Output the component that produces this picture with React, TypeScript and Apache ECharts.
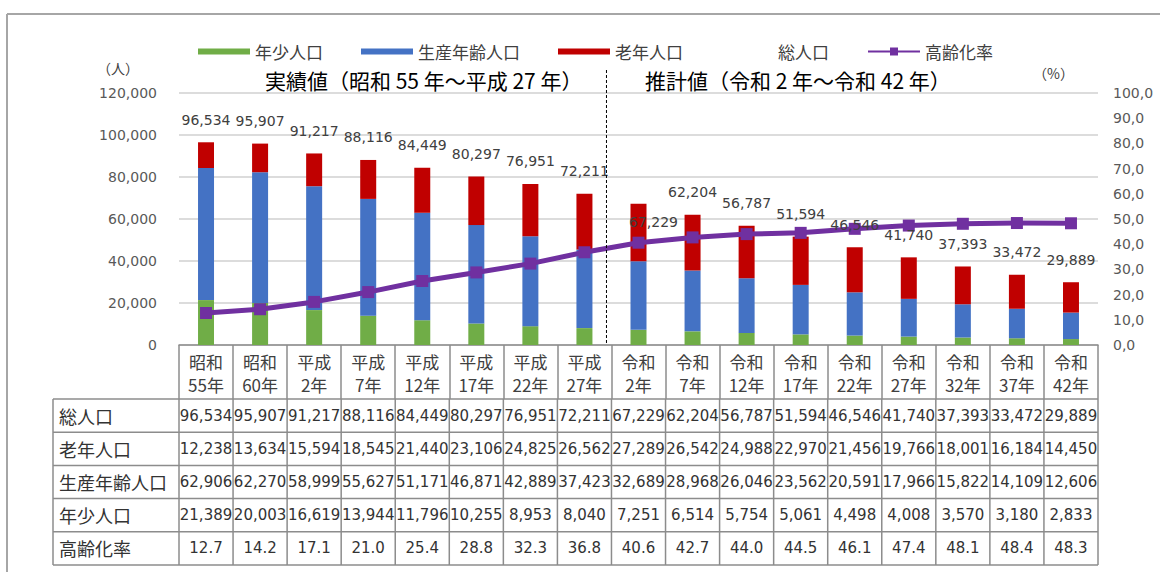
import React, { useEffect, useRef } from "react";
import * as echarts from "echarts";

// ---- data ----
const categories = [
  "昭和55年", "昭和60年", "平成2年", "平成7年", "平成12年", "平成17年", "平成22年", "平成27年",
  "令和2年", "令和7年", "令和12年", "令和17年", "令和22年", "令和27年", "令和32年", "令和37年", "令和42年",
];
const totalPop = [96534, 95907, 91217, 88116, 84449, 80297, 76951, 72211, 67229, 62204, 56787, 51594, 46546, 41740, 37393, 33472, 29889];
const elderlyPop = [12238, 13634, 15594, 18545, 21440, 23106, 24825, 26562, 27289, 26542, 24988, 22970, 21456, 19766, 18001, 16184, 14450];
const workingPop = [62906, 62270, 58999, 55627, 51171, 46871, 42889, 37423, 32689, 28968, 26046, 23562, 20591, 17966, 15822, 14109, 12606];
const youthPop = [21389, 20003, 16619, 13944, 11796, 10255, 8953, 8040, 7251, 6514, 5754, 5061, 4498, 4008, 3570, 3180, 2833];
const agingRate = [12.7, 14.2, 17.1, 21.0, 25.4, 28.8, 32.3, 36.8, 40.6, 42.7, 44.0, 44.5, 46.1, 47.4, 48.1, 48.4, 48.3];

const tableRowLabels = ["総人口", "老年人口", "生産年齢人口", "年少人口", "高齢化率"];
const actualNote = "実績値（昭和 55 年～平成 27 年）";
const estimateNote = "推計値（令和 2 年～令和 42 年）";
const leftUnit = "（人）";
const rightUnit = "（%）";

// ---- layout ----
const W = 1160;
const H = 572;
const GRID_LEFT = 179;
const GRID_RIGHT_X = 1098;
const GRID_TOP = 93;
const GRID_BOTTOM_Y = 345;
const TABLE_LEFT = 53;
const TABLE_TOP = 399;
const ROW_H = 33.2;
const LAST_ACTUAL_INDEX = 7;
const DISPLACED_LABEL_INDEX = 8;

const JP = '"Noto Sans CJK JP", sans-serif';
const NUM = '"DejaVu Sans", sans-serif';
const LINE_COLOR = "#8c8c8c";
const TEXT = "#404040";
const BAR_ICON = "path://M0,0h52v6h-52z";

const fmtInt = (v: number) => v.toLocaleString("en-US");

function buildGraphic() {
  const n = categories.length;
  const colW = (GRID_RIGHT_X - GRID_LEFT) / n;
  const els: any[] = [];
  const tableBottom = TABLE_TOP + ROW_H * tableRowLabels.length;

  // outer frame (top & left)
  els.push({ type: "line", silent: true, shape: { x1: 7, y1: 14, x2: W, y2: 14 }, style: { stroke: "#a6a6a6", lineWidth: 2 } });
  els.push({ type: "line", silent: true, shape: { x1: 7, y1: 14, x2: 7, y2: H }, style: { stroke: "#a6a6a6", lineWidth: 2 } });

  // table lines
  for (let r = 0; r <= tableRowLabels.length; r++) {
    const y = TABLE_TOP + r * ROW_H;
    els.push({ type: "line", silent: true, shape: { x1: TABLE_LEFT, y1: y, x2: GRID_RIGHT_X, y2: y }, style: { stroke: LINE_COLOR, lineWidth: 1.5 } });
  }
  els.push({ type: "line", silent: true, shape: { x1: TABLE_LEFT, y1: TABLE_TOP, x2: TABLE_LEFT, y2: tableBottom }, style: { stroke: LINE_COLOR, lineWidth: 1.5 } });
  for (let i = 0; i <= n; i++) {
    const x = GRID_LEFT + i * colW;
    els.push({ type: "line", silent: true, shape: { x1: x, y1: TABLE_TOP, x2: x, y2: tableBottom }, style: { stroke: LINE_COLOR, lineWidth: 1.5 } });
  }

  // table texts
  const rows: string[][] = [
    totalPop.map(fmtInt),
    elderlyPop.map(fmtInt),
    workingPop.map(fmtInt),
    youthPop.map(fmtInt),
    agingRate.map((v) => v.toFixed(1)),
  ];
  tableRowLabels.forEach((label, r) => {
    const cy = TABLE_TOP + r * ROW_H + ROW_H / 2;
    els.push({
      type: "text", silent: true, x: 59, y: cy,
      style: { text: label, fontSize: 18, fontFamily: JP, fill: "#333", align: "left", verticalAlign: "middle" },
    });
    rows[r].forEach((t, i) => {
      els.push({
        type: "text", silent: true, x: GRID_LEFT + i * colW + colW / 2, y: cy,
        style: { text: t, fontSize: 15, fontFamily: NUM, fill: "#333", align: "center", verticalAlign: "middle" },
      });
    });
  });

  // dashed divider between actual and estimate
  const divX = GRID_LEFT + (LAST_ACTUAL_INDEX + 1) * colW - 5;
  els.push({ type: "line", silent: true, z: 10, shape: { x1: divX, y1: 70, x2: divX, y2: GRID_BOTTOM_Y }, style: { stroke: "#000", lineWidth: 1, lineDash: [3, 2] } });

  // notes and units
  els.push({ type: "text", silent: true, x: 265, y: 80, style: { text: actualNote, fontSize: 21, fontFamily: JP, fill: "#000", align: "left", verticalAlign: "middle" } });
  els.push({ type: "text", silent: true, x: 645, y: 80, style: { text: estimateNote, fontSize: 21, fontFamily: JP, fill: "#000", align: "left", verticalAlign: "middle" } });
  els.push({ type: "text", silent: true, x: 97, y: 68, style: { text: leftUnit, fontSize: 14, fontFamily: JP, fill: TEXT, align: "left", verticalAlign: "middle" } });
  els.push({ type: "text", silent: true, x: 1033, y: 73, style: { text: rightUnit, fontSize: 14, fontFamily: JP, fill: TEXT, align: "left", verticalAlign: "middle" } });
  return els;
}

export default function App() {
  const ref = useRef<HTMLDivElement>(null);
  useEffect(() => {
    if (!ref.current) return;
    const chart = echarts.init(ref.current, undefined, { renderer: "svg" });
    const axisLine = { lineStyle: { color: LINE_COLOR, width: 1.5 } };
    chart.setOption({
      animation: false,
      backgroundColor: "#fff",
      legend: {
        left: 193,
        top: 38,
        itemWidth: 52,
        itemHeight: 10,
        itemGap: 38,
        selectedMode: false,
        textStyle: { fontFamily: JP, fontSize: 17, color: TEXT },
        data: [
          { name: "年少人口", icon: BAR_ICON },
          { name: "生産年齢人口", icon: BAR_ICON },
          { name: "老年人口", icon: BAR_ICON },
          { name: "総人口", icon: BAR_ICON, itemStyle: { opacity: 0 } },
          { name: "高齢化率" },
        ],
      },
      grid: { left: GRID_LEFT, right: W - GRID_RIGHT_X, top: GRID_TOP, bottom: H - GRID_BOTTOM_Y, containLabel: false },
      xAxis: {
        type: "category",
        data: categories,
        axisLine,
        axisTick: { show: true, length: TABLE_TOP - GRID_BOTTOM_Y, interval: 0, lineStyle: { color: LINE_COLOR, width: 1.5 } },
        axisLabel: {
          interval: 0,
          margin: 5,
          formatter: (v: string) => v.slice(0, 2) + "\n" + v.slice(2),
          fontFamily: JP,
          fontSize: 17,
          lineHeight: 23,
          color: TEXT,
        },
      },
      yAxis: [
        {
          type: "value",
          min: 0,
          max: 120000,
          interval: 20000,
          axisLine: { show: false },
          axisTick: { show: false },
          axisLabel: { margin: 22, fontFamily: NUM, fontSize: 14, color: "#595959", formatter: (v: number) => fmtInt(v) },
          splitLine: { lineStyle: { color: "#dcdcdc", width: 2 } },
        },
        {
          type: "value",
          min: 0,
          max: 100,
          interval: 10,
          axisLine: { show: false },
          axisTick: { show: false },
          axisLabel: { margin: 15, fontFamily: NUM, fontSize: 14, color: "#595959", formatter: (v: number) => v.toFixed(1).replace(".", ",") },
          splitLine: { show: false },
        },
      ],
      series: [
        { name: "年少人口", type: "bar", stack: "pop", barWidth: 16, data: youthPop, itemStyle: { color: "#70ad47" } },
        { name: "生産年齢人口", type: "bar", stack: "pop", barWidth: 16, data: workingPop, itemStyle: { color: "#4472c4" } },
        { name: "老年人口", type: "bar", stack: "pop", barWidth: 16, data: elderlyPop, itemStyle: { color: "#c00000" } },
        {
          name: "高齢化率",
          type: "line",
          yAxisIndex: 1,
          data: agingRate,
          z: 4,
          symbol: "rect",
          symbolSize: 12,
          showAllSymbol: true,
          itemStyle: { color: "#7030a0" },
          lineStyle: { color: "#7030a0", width: 5 },
        },
        {
          name: "総人口",
          type: "line",
          yAxisIndex: 0,
          z: 6,
          data: totalPop.map((v, i) => (i === DISPLACED_LABEL_INDEX ? { value: v, label: { offset: [15, 41] } } : v)),
          symbol: "circle",
          symbolSize: 1,
          showAllSymbol: true,
          itemStyle: { color: "rgba(0,0,0,0)" },
          lineStyle: { opacity: 0, width: 0 },
          label: {
            show: true,
            position: "top",
            distance: 15,
            fontFamily: NUM,
            fontSize: 14,
            color: TEXT,
            formatter: (p: any) => fmtInt(p.value),
          },
        },
      ],
      graphic: buildGraphic(),
    });
    return () => chart.dispose();
  }, []);
  return <div ref={ref} style={{ position: "absolute", left: 0, top: 0, width: W, height: H }} />;
}
